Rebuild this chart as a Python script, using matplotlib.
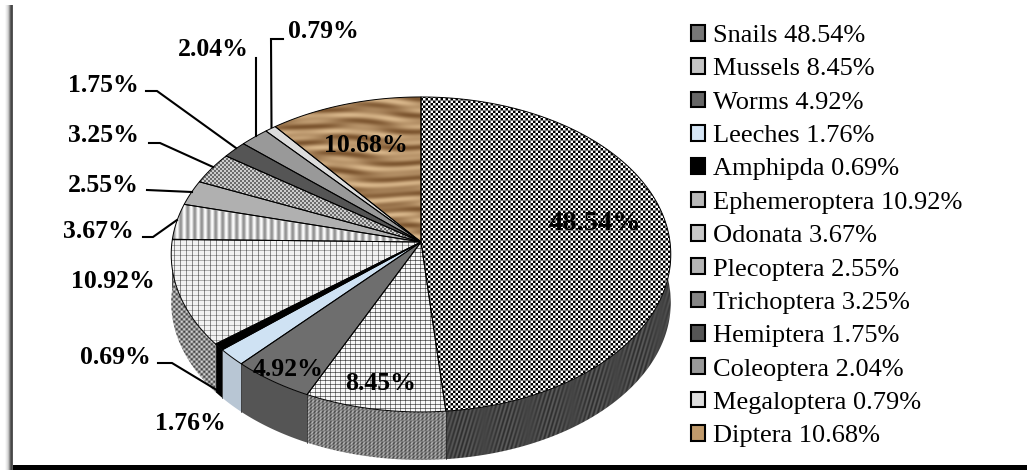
import numpy as np
import matplotlib
matplotlib.use("Agg")
import matplotlib.pyplot as plt
from matplotlib.patches import Polygon, Patch, Rectangle

plt.rcParams['font.family'] = ['Liberation Serif', 'DejaVu Serif']

# data
groups = ["Snails", "Mussels", "Worms", "Leeches", "Amphipda", "Ephemeroptera", "Odonata",
          "Plecoptera", "Trichoptera", "Hemiptera", "Coleoptera", "Megaloptera", "Diptera"]
values = [48.54, 8.45, 4.92, 1.76, 0.69, 10.92, 3.67, 2.55, 3.25, 1.75, 2.04, 0.79, 10.68]
legend_colors = ["#777777", "#c4c4c4", "#666666", "#d5e5f5", "#000000", "#b8b8b8", "#c8c8c8",
                 "#b5b5b5", "#858585", "#555555", "#999999", "#dddddd", "#c09a6b"]

# label anchor in pixels, leader line in pixels (same order as values)
label_pos = [(595, 223), (381, 384), (288, 370), (190, 424), (115, 357), (113, 282), (98, 232),
             (103, 185), (103, 136), (103, 86), (213, 49), (323, 32), (366, 145)]
label_size = [20.5, 18.5, 18.5, 18.5, 18.5, 18.5, 18.5, 18.5, 18.5, 18.5, 18.5, 18.5, 18.5]
leaders = {
    4: [(158, 363), (172, 363), (220, 392)],
    6: [(143, 237), (153, 237), (177, 220)],
    7: [(147, 190), (192, 192)],
    8: [(149, 143), (160, 143), (213, 167)],
    9: [(146, 91), (157, 91), (236, 148)],
    10: [(256, 58), (256, 136)],
    11: [(283, 39), (271, 39), (271.5, 127)],
}

W, H = 1027, 470
cx, cy = 421, 242
R, S, k = 249, 156.5, 0.079
depth = 48

Y, X = np.mgrid[0:H, 0:W]


def gray(a):
    a = np.clip(a, 0, 1)
    return np.dstack([a, a, a])


def solid(c):
    return np.ones((H, W, 3)) * matplotlib.colors.to_rgb(c)


def checker():
    a = np.sin(2 * np.pi * X / 5) * np.sin(2 * np.pi * Y / 5)
    return gray(0.5 + 0.5 * np.clip(3 * a, -1, 1))


def grid_fine():
    a = np.ones((H, W)) * 0.97
    a[X % 5 == 0] = 0.55
    a[Y % 4 == 0] *= 0.5
    return gray(a)


def grid_wide():
    a = np.ones((H, W)) * 0.95
    a[X % 6 == 0] = 0.55
    a[Y % 5 == 0] *= 0.72
    return gray(a)


def stripes():
    return gray(0.78 + 0.2 * np.sin(2 * np.pi * X / 7))


def dots():
    a = ((X // 2) + (Y // 2)) % 2
    return gray(0.42 + 0.38 * a)


def wood():
    f = np.sin(Y / 2.6 + 1.5 * np.sin(X / 41) + 1.2 * np.sin(X / 17 + Y / 23))
    f = f + 0.5 * np.sin(Y / 1.3 + 2 * np.sin(X / 29 + Y / 40))
    t = ((f + 1.5) / 3)[..., None]
    dark = np.array(matplotlib.colors.to_rgb("#7d5630"))
    light = np.array(matplotlib.colors.to_rgb("#d8b68a"))
    return dark + (light - dark) * t


def wall_dark():
    return gray(0.27 + 0.09 * np.sin(2 * np.pi * (X + 0.3 * Y) / 4) * np.sin(X / 14))


def wall_grid():
    return gray(0.5 + 0.22 * np.sin(2 * np.pi * (X + 0.6 * Y) / 4) * np.sin(2 * np.pi * Y / 7))


def wall_spots():
    return gray(0.55 + 0.3 * np.sin(2 * np.pi * X / 5) * np.sin(2 * np.pi * Y / 5))


top_fill = [checker(), grid_fine(), solid("#6e6e6e"), solid("#cfe2f3"), solid("#000000"),
            grid_wide(), stripes(), solid("#b0b0b0"), dots(), solid("#555555"),
            solid("#999999"), solid("#dcdcdc"), wood()]
side_fill = [wall_dark(), wall_grid(), solid("#555555"), solid("#b8c6d4"), solid("#000000"),
             wall_spots()]


def rim(theta, y0):
    u, v = np.sin(theta), np.cos(theta)
    w = 1 + k * v
    return np.column_stack([cx + R * u / w, y0 - S * v / w])


fig = plt.figure(figsize=(W / 100, H / 100), dpi=100)
ax = fig.add_axes([0, 0, 1, 1])
ax.axis("off")


def textured(points, fill, zorder, edge=None, lw=0.7):
    poly = Polygon(points, closed=True, fc="none", ec=edge if edge else "none", lw=lw, zorder=zorder + 0.1)
    ax.add_patch(poly)
    im = ax.imshow(fill, extent=(0, W, H, 0), interpolation="nearest", aspect="auto", zorder=zorder)
    im.set_clip_path(poly)


total = sum(values)
edges = np.radians(np.cumsum([0] + values) / total * 360)

# side wall, only the front part shows
wall_from, wall_to = np.radians(70), np.radians(285)
for i, fill in enumerate(side_fill):
    a0 = max(edges[i], wall_from)
    a1 = min(edges[i + 1], wall_to)
    th = np.linspace(a0, a1, 100)
    pts = np.vstack([rim(th, cy), rim(th[::-1], cy + depth)])
    textured(pts, fill, 1)
    if edges[i + 1] < wall_to:
        end = np.array([edges[i + 1]])
        p0, p1 = rim(end, cy)[0], rim(end, cy + depth)[0]
        ax.plot([p0[0], p1[0]], [p0[1], p1[1]], color="#222222", lw=0.5, zorder=1.5)

# top face
for i, fill in enumerate(top_fill):
    th = np.linspace(edges[i], edges[i + 1], 160)
    pts = np.vstack([[cx, cy], rim(th, cy)])
    textured(pts, fill, 2, edge="black")

# percent labels and leaders
for i, (x, y) in enumerate(label_pos):
    ax.text(x, y, f"{values[i]:.2f}%", fontsize=label_size[i], fontweight="bold",
            ha="center", va="center", zorder=5)
for pts in leaders.values():
    xs, ys = zip(*pts)
    ax.plot(xs, ys, color="black", lw=1.5, zorder=4, solid_joinstyle="miter")

# legend
handles = [Patch(fc=c, ec="black", lw=1.5) for c in legend_colors]
labels = [f"{g} {v:.2f}%" for g, v in zip(groups, values)]
ax.legend(handles, labels, loc="upper left", bbox_to_anchor=(691, 25), bbox_transform=ax.transData,
          frameon=False, fontsize=19, handlelength=0.53, handleheight=0.53, handletextpad=0.3,
          labelspacing=0.425, borderpad=0, borderaxespad=0)

# frame: blurred left edge and black bottom band
shade = np.array([[0.97, 0.92, 0.86, 0.76, 0.58, 0.38, 0.28, 0.34]])
ax.imshow(shade, extent=(5, 13, H, 5), cmap="gray", vmin=0, vmax=1, aspect="auto",
          interpolation="nearest", zorder=6)
ax.add_patch(Rectangle((13, 465), W - 13, 5, fc="black", ec="none", zorder=6))

ax.set_xlim(0, W)
ax.set_ylim(H, 0)
fig.savefig("out.png", dpi=100)
